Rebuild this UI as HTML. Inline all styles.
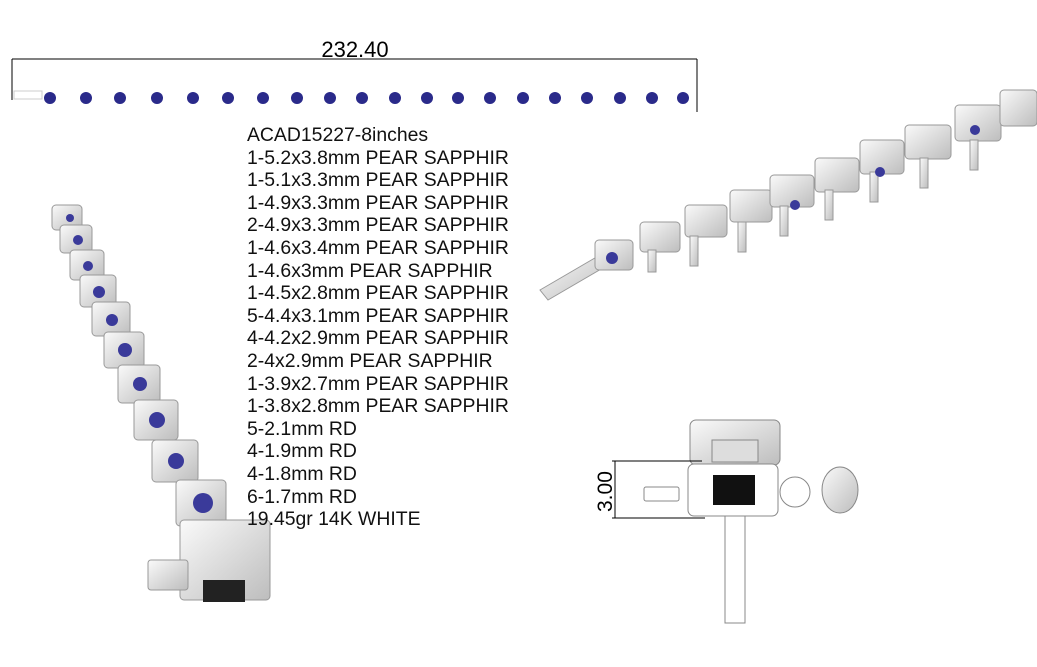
<!DOCTYPE html>
<html><head><style>
body{margin:0;width:1037px;height:667px;background:#fff;overflow:hidden;position:relative;font-family:"Liberation Sans",sans-serif}
.t{position:absolute;left:247px;font-size:19.4px;color:#111;line-height:22.6px;top:124px;white-space:pre}
</style></head><body>
<svg width="1037" height="667" style="position:absolute;left:0;top:0">
<defs>
<linearGradient id="m" x1="0" y1="0" x2="1" y2="1"><stop offset="0" stop-color="#fafafa"/><stop offset="1" stop-color="#bdbdbd"/></linearGradient>
</defs>
<line x1="12" y1="59" x2="697" y2="59" stroke="#000" stroke-width="1"/>
<line x1="12" y1="59" x2="12" y2="100" stroke="#000"/>
<line x1="697" y1="59" x2="697" y2="112" stroke="#000"/>
<text x="355" y="57" font-size="22" text-anchor="middle" font-family="Liberation Sans">232.40</text>
<rect x="14" y="91" width="28" height="8" fill="none" stroke="#ccc"/>
<g fill="#2a2a8a">
<circle cx="50" cy="98" r="6"/><circle cx="86" cy="98" r="6"/><circle cx="120" cy="98" r="6"/><circle cx="157" cy="98" r="6"/><circle cx="193" cy="98" r="6"/><circle cx="228" cy="98" r="6"/><circle cx="263" cy="98" r="6"/><circle cx="297" cy="98" r="6"/><circle cx="330" cy="98" r="6"/><circle cx="362" cy="98" r="6"/><circle cx="395" cy="98" r="6"/><circle cx="427" cy="98" r="6"/><circle cx="458" cy="98" r="6"/><circle cx="490" cy="98" r="6"/><circle cx="523" cy="98" r="6"/><circle cx="555" cy="98" r="6"/><circle cx="587" cy="98" r="6"/><circle cx="620" cy="98" r="6"/><circle cx="652" cy="98" r="6"/><circle cx="683" cy="98" r="6"/>
</g>
<g fill="url(#m)" stroke="#999" stroke-width="1">
<rect x="52" y="205" width="30" height="25" rx="4"/><rect x="60" y="225" width="32" height="28" rx="4"/><rect x="70" y="250" width="34" height="30" rx="4"/><rect x="80" y="275" width="36" height="32" rx="4"/><rect x="92" y="302" width="38" height="34" rx="4"/><rect x="104" y="332" width="40" height="36" rx="4"/><rect x="118" y="365" width="42" height="38" rx="4"/><rect x="134" y="400" width="44" height="40" rx="4"/><rect x="152" y="440" width="46" height="42" rx="4"/><rect x="176" y="480" width="50" height="46" rx="4"/>
<rect x="180" y="520" width="90" height="80" rx="4"/><rect x="148" y="560" width="40" height="30" rx="3"/>
</g>
<g fill="#3a3a9a"><circle cx="70" cy="218" r="4"/><circle cx="78" cy="240" r="5"/><circle cx="88" cy="266" r="5"/><circle cx="99" cy="292" r="6"/><circle cx="112" cy="320" r="6"/><circle cx="125" cy="350" r="7"/><circle cx="140" cy="384" r="7"/><circle cx="157" cy="420" r="8"/><circle cx="176" cy="461" r="8"/><circle cx="203" cy="503" r="10"/></g>
<rect x="203" y="580" width="42" height="22" fill="#222"/>
<g fill="url(#m)" stroke="#999">
<path d="M540 290 L600 255 L608 265 L548 300 Z"/>
<rect x="595" y="240" width="38" height="30" rx="4"/><rect x="640" y="222" width="40" height="30" rx="4"/><rect x="685" y="205" width="42" height="32" rx="4"/><rect x="730" y="190" width="42" height="32" rx="4"/><rect x="770" y="175" width="44" height="32" rx="4"/><rect x="815" y="158" width="44" height="34" rx="4"/><rect x="860" y="140" width="44" height="34" rx="4"/><rect x="905" y="125" width="46" height="34" rx="4"/><rect x="955" y="105" width="46" height="36" rx="4"/><rect x="1000" y="90" width="37" height="36" rx="4"/>
<rect x="648" y="250" width="8" height="22"/><rect x="690" y="236" width="8" height="30"/><rect x="738" y="222" width="8" height="30"/><rect x="780" y="206" width="8" height="30"/><rect x="825" y="190" width="8" height="30"/><rect x="870" y="172" width="8" height="30"/><rect x="920" y="158" width="8" height="30"/><rect x="970" y="140" width="8" height="30"/>
</g>
<g fill="#3a3a9a"><circle cx="612" cy="258" r="6"/><circle cx="795" cy="205" r="5"/><circle cx="880" cy="172" r="5"/><circle cx="975" cy="130" r="5"/></g>
<g stroke="#888" fill="url(#m)">
<rect x="690" y="420" width="90" height="45" rx="6"/>
<rect x="712" y="440" width="46" height="22" fill="#ddd"/>
<rect x="725" y="515" width="20" height="108" fill="#fff"/>
<rect x="688" y="464" width="90" height="52" rx="6" fill="#fff"/>
<circle cx="795" cy="492" r="15" fill="#fff"/>
<ellipse cx="840" cy="490" rx="18" ry="23"/>
<rect x="644" y="487" width="35" height="14" rx="2" fill="#fff"/>
</g>
<rect x="713" y="475" width="42" height="30" fill="#111"/>
<line x1="612" y1="461" x2="702" y2="461" stroke="#000"/>
<line x1="612" y1="518" x2="705" y2="518" stroke="#000"/>
<line x1="615" y1="461" x2="615" y2="518" stroke="#000"/>
<text x="0" y="0" font-size="21" font-family="Liberation Sans" transform="translate(612,512) rotate(-90)">3.00</text>
</svg>
<div class="t">ACAD15227-8inches
1-5.2x3.8mm PEAR SAPPHIR
1-5.1x3.3mm PEAR SAPPHIR
1-4.9x3.3mm PEAR SAPPHIR
2-4.9x3.3mm PEAR SAPPHIR
1-4.6x3.4mm PEAR SAPPHIR
1-4.6x3mm PEAR SAPPHIR
1-4.5x2.8mm PEAR SAPPHIR
5-4.4x3.1mm PEAR SAPPHIR
4-4.2x2.9mm PEAR SAPPHIR
2-4x2.9mm PEAR SAPPHIR
1-3.9x2.7mm PEAR SAPPHIR
1-3.8x2.8mm PEAR SAPPHIR
5-2.1mm RD
4-1.9mm RD
4-1.8mm RD
6-1.7mm RD
19.45gr 14K WHITE</div>
</body></html>
